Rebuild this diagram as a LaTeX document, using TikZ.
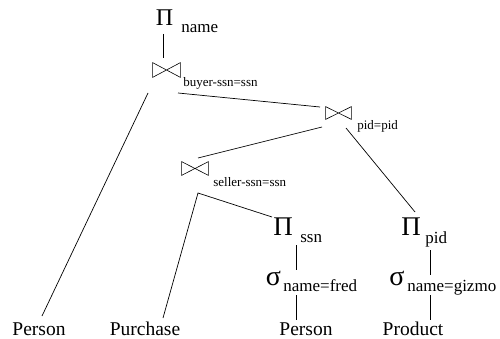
\documentclass[tikz,border=0pt]{standalone}
\usepackage{fontspec}
\setmainfont{Liberation Serif}
\tikzset{
  op/.style={font=\fontsize{27}{27}\selectfont, inner sep=0pt, anchor=base},
  sel/.style={font=\fontsize{28}{28}\selectfont, inner sep=0pt, anchor=base},
  sub/.style={font=\fontsize{17}{17}\selectfont, inner sep=0pt, anchor=base west},
  cond/.style={font=\fontsize{13}{13}\selectfont, inner sep=0pt, anchor=base west},
  rel/.style={font=\fontsize{19.5}{19.5}\selectfont, inner sep=0pt, anchor=base},
  bowtie/.style={minimum width=26pt, minimum height=13pt, inner sep=0pt}
}

\begin{document}
\begin{tikzpicture}[x=1pt, y=-1pt, line width=0.7pt]
\useasboundingbox (0,0) rectangle (500,339);

% projection on top
\node[op, font=\fontsize{24}{24}\selectfont] (pname) at (164.5,26) {Π};
\node[sub] (pnamesub) at (181,33) {name};

% joins
\node[bowtie, minimum width=27pt, minimum height=14pt] (j1) at (166.5,70) {};
\node[cond] (c1) at (183,87) {buyer-ssn=ssn};
\node[bowtie, minimum width=25pt, minimum height=12pt] (j2) at (338.5,113) {};
\node[cond] (c2) at (357,130) {pid=pid};
\node[bowtie] (j3) at (195,168.5) {};
\node[cond] (c3) at (213,186) {seller-ssn=ssn};
\foreach \j in {j1,j2,j3}
  \draw[line width=0.6pt] (\j.north west) -- (\j.south east) -- (\j.north east) -- (\j.south west) -- cycle;

% projections and selections
\node[op] (pissn) at (283,235) {Π};
\node[sub] (ssn) at (300,242) {ssn};
\node[op] (pipid) at (411,235) {Π};
\node[sub] (pid) at (425,243) {pid};
\node[sel] (sfred) at (273.5,285) {σ};
\node[sub] (fred) at (283,291) {name=fred};
\node[sel] (sgizmo) at (397,285) {σ};
\node[sub] (gizmo) at (407,291) {name=gizmo};

% relations
\node[rel] (person) at (39,335) {Person};
\node[rel] (purchase) at (145,335) {Purchase};
\node[rel] (person2) at (306,335) {Person};
\node[rel] (product) at (413,335) {Product};

% edges
\draw ([xshift=-1.5pt,yshift=-8pt]pname.base) -- ([xshift=-3.5pt,yshift=12pt]j1.center);
\draw ([xshift=-18.5pt,yshift=-23pt]j1.center) -- ([xshift=3pt,yshift=19pt]person.base);
\draw ([xshift=11.5pt,yshift=-23pt]j1.center) -- ([xshift=-18.5pt,yshift=6pt]j2.center);
\draw ([xshift=-16.5pt,yshift=-14pt]j2.center) -- ([xshift=3pt,yshift=10.5pt]j3.center);
\draw ([xshift=7.5pt,yshift=-15pt]j2.center) -- ([xshift=4pt,yshift=23pt]pipid.base);
\draw ([xshift=18pt,yshift=17pt]purchase.base) -- ([xshift=3pt,yshift=-24.5pt]j3.center)
  -- ([xshift=-11pt,yshift=18pt]pissn.base);
\draw ([xshift=13pt,yshift=-10pt]pissn.base) -- ([xshift=22.5pt,yshift=15pt]sfred.base);
\draw ([xshift=22.5pt,yshift=-10pt]sfred.base) -- ([xshift=-10pt,yshift=15pt]person2.base);
\draw ([xshift=19pt,yshift=-15pt]pipid.base) -- ([xshift=33pt,yshift=10pt]sgizmo.base);
\draw ([xshift=33pt,yshift=-10pt]sgizmo.base) -- ([xshift=17pt,yshift=15pt]product.base);
\end{tikzpicture}
\end{document}
